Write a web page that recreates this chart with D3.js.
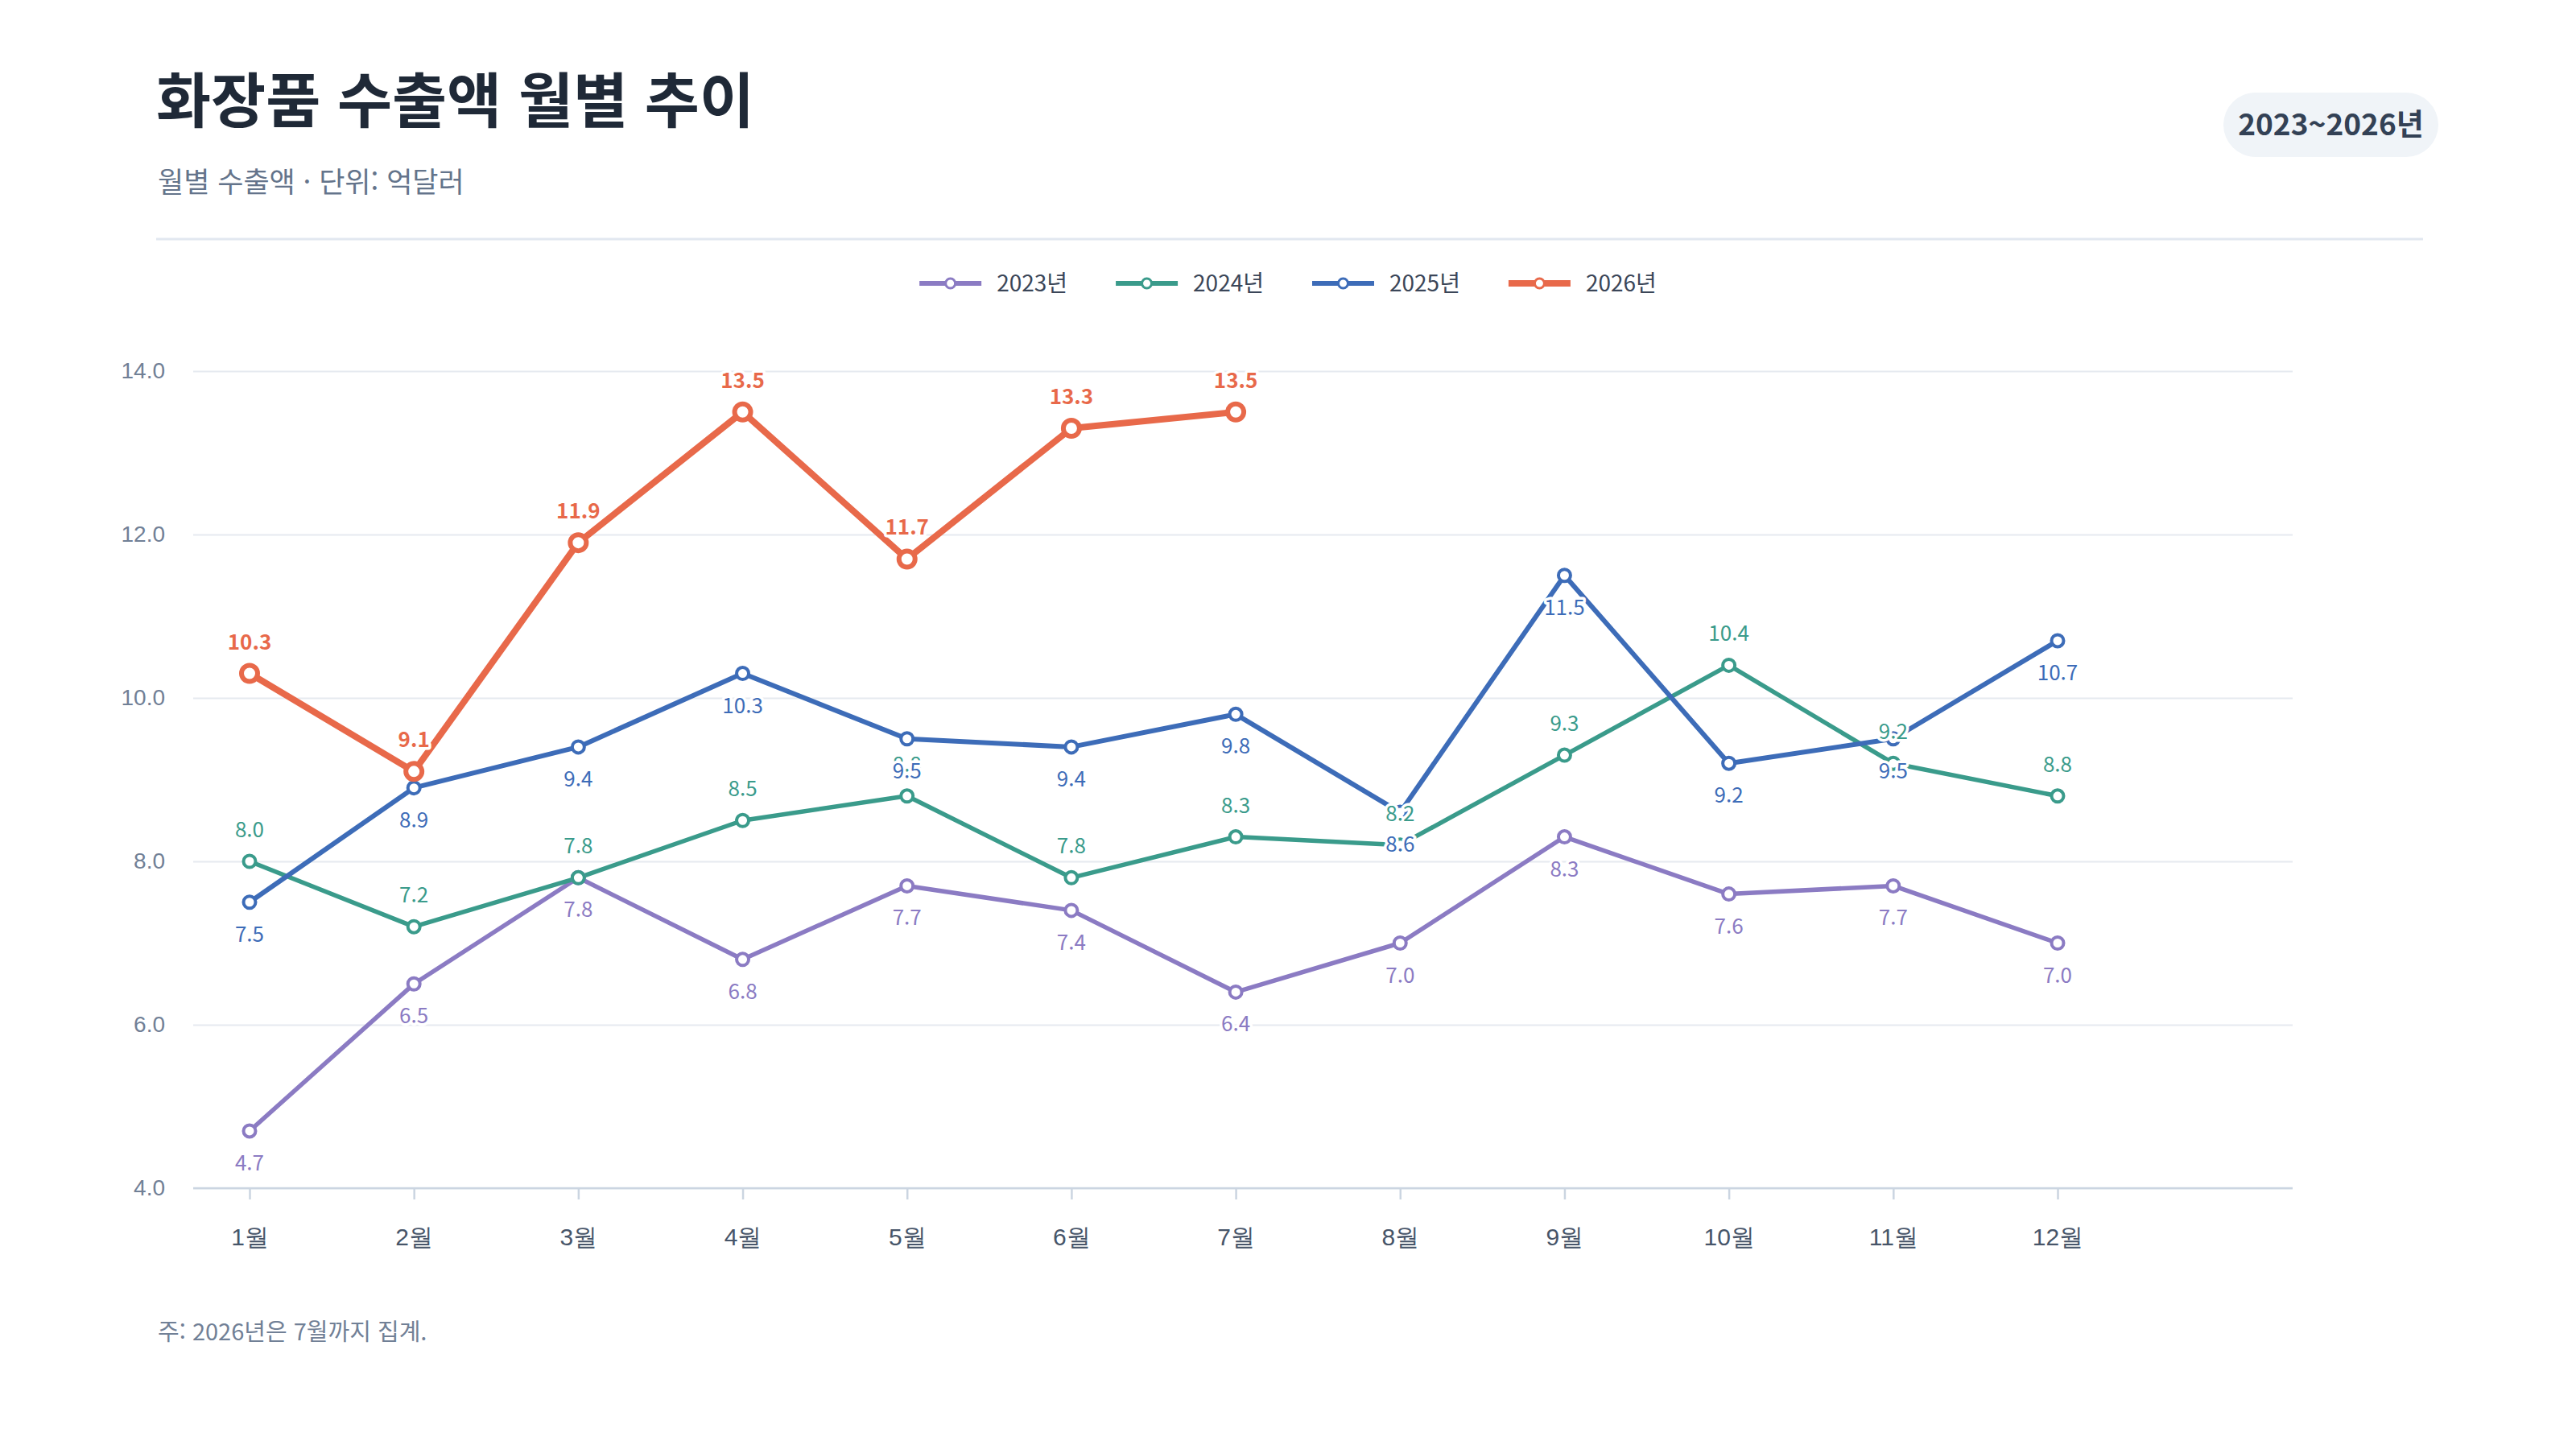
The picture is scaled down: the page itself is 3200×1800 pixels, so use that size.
<!DOCTYPE html>
<html lang="ko">
<head>
<meta charset="UTF-8">
<title>화장품 수출액 월별 추이</title>
<script src="https://d3js.org/d3.v7.min.js"></script>
<style>
    body { margin: 0; background: #fff; }
    svg { display: block; font-family: "Noto Sans CJK KR", "Noto Sans", sans-serif; }
    .grid line { stroke: #e6eaf0; stroke-width: 2; }
    .grid text { fill: #718096; font-size: 28px; }
    .xaxis line { stroke: #cbd5e1; stroke-width: 2.5; }
    .xaxis text { fill: #475569; font-size: 30px; font-weight: 500; }
    .label { font-size: 26px; stroke: #fff; stroke-width: 7; paint-order: stroke; stroke-linejoin: round; }
</style>
</head>
<body>
<script>
    // data (억달러)
    const months = ["1월", "2월", "3월", "4월", "5월", "6월", "7월", "8월", "9월", "10월", "11월", "12월"];
    const years = ["2023년", "2024년", "2025년", "2026년"];
    const v2023 = [4.7, 6.5, 7.8, 6.8, 7.7, 7.4, 6.4, 7.0, 8.3, 7.6, 7.7, 7.0];
    const v2024 = [8.0, 7.2, 7.8, 8.5, 8.8, 7.8, 8.3, 8.2, 9.3, 10.4, 9.2, 8.8];
    const v2025 = [7.5, 8.9, 9.4, 10.3, 9.5, 9.4, 9.8, 8.6, 11.5, 9.2, 9.5, 10.7];
    const v2026 = [10.3, 9.1, 11.9, 13.5, 11.7, 13.3, 13.5];
    const yTicks = [4, 6, 8, 10, 12, 14];

    const width = 3200;
    const height = 1800;
    const plot = {left: 240, right: 2848, top: 461, bottom: 1476};

    const series = [
        {name: years[0], values: v2023, color: "#8b7bc3", width: 5.5, r: 7.5, sw: 4, pos: "below", bold: false},
        {name: years[1], values: v2024, color: "#3a9b8b", width: 5.5, r: 7.5, sw: 4, pos: "above", bold: false},
        {name: years[2], values: v2025, color: "#3d6cb8", width: 6, r: 7.5, sw: 4, pos: "below", bold: false},
        {name: years[3], values: v2026, color: "#e8694a", width: 8, r: 10, sw: 6, pos: "above", bold: true}
    ];

    const svg = d3.select("body").append("svg")
            .attr("width", width).attr("height", height);

    // header
    svg.append("text").attr("x", 194).attr("y", 152)
        .attr("font-size", 74).attr("font-weight", 700).attr("fill", "#1f2937")
        .text("화장품 수출액 월별 추이");
    svg.append("text").attr("x", 196).attr("y", 239)
        .attr("font-size", 35).attr("fill", "#64748b")
        .text("월별 수출액 · 단위: 억달러");

    const badge = svg.append("g").attr("transform", "translate(2762,115)");
    badge.append("rect").attr("width", 267).attr("height", 80).attr("rx", 40).attr("fill", "#f0f4f8");
    badge.append("text").attr("x", 133.5).attr("y", 40).attr("dy", "0.36em")
        .attr("text-anchor", "middle").attr("font-size", 37).attr("font-weight", 700).attr("fill", "#334155")
        .text("2023~2026년");

    svg.append("line").attr("x1", 194).attr("x2", 3010).attr("y1", 297).attr("y2", 297)
        .attr("stroke", "#e2e8f0").attr("stroke-width", 3);

    // legend
    const legend = svg.append("g");
    let lx = 0;
    series.forEach(s => {
        const g = legend.append("g").attr("transform", `translate(${lx},0)`);
        g.append("line").attr("x1", 0).attr("x2", 77)
            .attr("stroke", s.color).attr("stroke-width", s.bold ? 8 : 6);
        g.append("circle").attr("cx", 38.5).attr("r", 6)
            .attr("fill", "#fff").attr("stroke", s.color).attr("stroke-width", 3);
        const t = g.append("text").attr("x", 96).attr("dy", "0.35em")
            .attr("font-size", 28).attr("fill", "#3b4658").text(s.name);
        lx += 96 + t.node().getComputedTextLength() + 60;
    });
    lx -= 60;
    legend.attr("transform", `translate(${1600 - lx / 2},352)`);

    // scales
    const x = d3.scalePoint().domain(months).range([310, 2556]);
    const y = d3.scaleLinear().domain([4, 14]).range([plot.bottom, plot.top]);

    // grid + y labels
    svg.append("g").attr("class", "grid")
        .attr("transform", `translate(${plot.left},0)`)
        .call(d3.axisLeft(y).tickValues(yTicks).tickFormat(d3.format(".1f"))
            .tickSize(-(plot.right - plot.left)).tickPadding(35))
        .call(g => g.select(".domain").remove());

    // x axis
    svg.append("g").attr("class", "xaxis")
        .attr("transform", `translate(0,${plot.bottom})`)
        .call(d3.axisBottom(x).tickSize(14).tickPadding(36))
        .call(g => g.select(".domain").remove())
        .call(g => g.append("line").attr("x1", plot.left).attr("x2", plot.right)
            .attr("stroke-width", 3));

    const line = d3.line()
        .x((d, i) => x(months[i]))
        .y(d => y(d));

    series.forEach(s => {
        svg.append("path").datum(s.values)
            .attr("fill", "none").attr("stroke", s.color)
            .attr("stroke-width", s.width).attr("stroke-linejoin", "round")
            .attr("d", line);
    });

    series.forEach(s => {
        svg.append("g").selectAll("circle").data(s.values).enter()
            .append("circle")
            .attr("cx", (d, i) => x(months[i]))
            .attr("cy", d => y(d))
            .attr("r", s.r)
            .attr("fill", "#fff").attr("stroke", s.color).attr("stroke-width", s.sw);
    });

    series.forEach(s => {
        svg.append("g").selectAll("text").data(s.values).enter()
            .append("text").attr("class", "label")
            .attr("x", (d, i) => x(months[i]))
            .attr("y", d => s.pos === "above" ? y(d) - 30 : y(d) + 49)
            .attr("text-anchor", "middle")
            .attr("fill", s.color)
            .attr("font-weight", s.bold ? 700 : 400)
            .text(d => d.toFixed(1));
    });

    // footnote
    svg.append("text").attr("x", 196).attr("y", 1665)
        .attr("font-size", 29).attr("fill", "#718096")
        .text("주: 2026년은 7월까지 집계.");
</script>
</body>
</html>
